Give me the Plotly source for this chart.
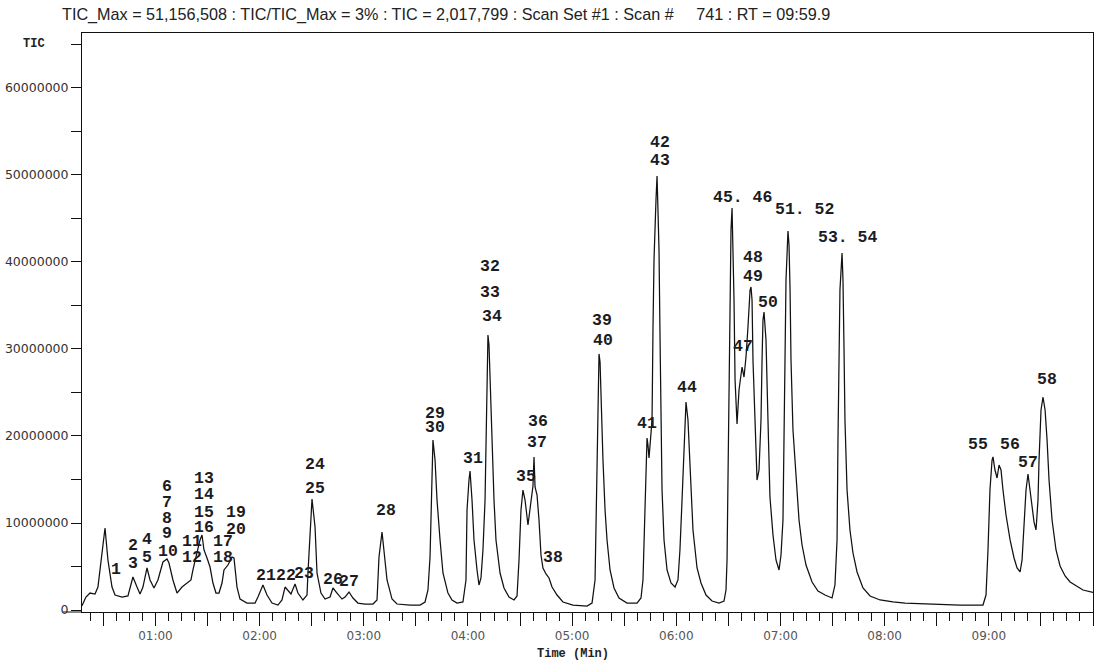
import plotly.graph_objects as go

# ---------------- data ----------------
time_min = [
    0.295, 0.333, 0.372, 0.420, 0.448, 0.487, 0.516, 0.544, 0.583, 0.612,
    0.679, 0.736, 0.784, 0.823, 0.852, 0.880, 0.919, 0.948, 0.986, 1.024,
    1.072, 1.111, 1.130, 1.168, 1.207, 1.255, 1.303, 1.341, 1.360, 1.370,
    1.428, 1.447, 1.466, 1.495, 1.524, 1.552, 1.581, 1.610, 1.639, 1.658,
    1.696, 1.735, 1.754, 1.783, 1.812, 1.879, 1.956, 1.984, 2.032, 2.071,
    2.119, 2.176, 2.215, 2.244, 2.272, 2.301, 2.340, 2.368, 2.416, 2.455,
    2.464, 2.493, 2.503, 2.532, 2.551, 2.589, 2.628, 2.676, 2.704, 2.743,
    2.791, 2.820, 2.858, 2.896, 2.944, 3.012, 3.088, 3.127, 3.146, 3.175,
    3.194, 3.223, 3.271, 3.319, 3.444, 3.540, 3.588, 3.616, 3.636, 3.645,
    3.655, 3.664, 3.684, 3.703, 3.732, 3.760, 3.808, 3.847, 3.895, 3.952,
    3.981, 3.991, 4.010, 4.020, 4.039, 4.058, 4.087, 4.106, 4.125, 4.144,
    4.164, 4.173, 4.183, 4.192, 4.202, 4.212, 4.231, 4.250, 4.269, 4.308,
    4.346, 4.394, 4.442, 4.471, 4.490, 4.509, 4.528, 4.548, 4.576, 4.605,
    4.624, 4.634, 4.644, 4.663, 4.682, 4.701, 4.720, 4.749, 4.778, 4.807,
    4.855, 4.912, 5.008, 5.143, 5.191, 5.220, 5.229, 5.239, 5.248, 5.258,
    5.268, 5.277, 5.296, 5.316, 5.335, 5.364, 5.402, 5.450, 5.527, 5.623,
    5.661, 5.680, 5.700, 5.709, 5.719, 5.728, 5.738, 5.748, 5.757, 5.767,
    5.776, 5.786, 5.805, 5.815, 5.824, 5.834, 5.844, 5.853, 5.863, 5.882,
    5.911, 5.949, 5.988, 6.016, 6.035, 6.055, 6.074, 6.093, 6.112, 6.131,
    6.160, 6.199, 6.237, 6.285, 6.343, 6.410, 6.458, 6.477, 6.487, 6.496,
    6.506, 6.516, 6.525, 6.535, 6.544, 6.554, 6.564, 6.583, 6.602, 6.621,
    6.631, 6.650, 6.669, 6.688, 6.708, 6.717, 6.727, 6.736, 6.756, 6.775,
    6.794, 6.813, 6.823, 6.832, 6.842, 6.861, 6.880, 6.899, 6.928, 6.957,
    6.986, 7.005, 7.024, 7.034, 7.044, 7.053, 7.072, 7.082, 7.092, 7.101,
    7.120, 7.149, 7.178, 7.207, 7.245, 7.303, 7.360, 7.428, 7.495, 7.523,
    7.543, 7.552, 7.562, 7.571, 7.591, 7.600, 7.610, 7.619, 7.639, 7.667,
    7.696, 7.735, 7.792, 7.860, 7.956, 8.080, 8.196, 8.435, 8.723, 8.944,
    8.973, 8.992, 9.011, 9.031, 9.040, 9.059, 9.079, 9.098, 9.117, 9.136,
    9.165, 9.204, 9.242, 9.271, 9.300, 9.319, 9.338, 9.357, 9.376, 9.395,
    9.414, 9.434, 9.453, 9.472, 9.482, 9.492, 9.501, 9.520, 9.540, 9.559,
    9.578, 9.607, 9.645, 9.684, 9.732, 9.780, 9.837, 9.904, 10.000,
]

tic_millions = [
    0.50, 1.49, 1.95, 1.84, 2.64, 6.55, 9.43, 5.75, 2.64, 1.72,
    1.49, 1.61, 3.79, 2.64, 1.84, 2.64, 4.83, 3.45, 2.53, 3.45,
    5.52, 5.86, 5.40, 3.45, 1.95, 2.64, 3.10, 3.45, 4.60, 5.17,
    8.05, 8.62, 6.90, 5.98, 4.94, 3.10, 1.95, 1.95, 3.10, 4.60,
    5.17, 6.09, 5.98, 2.64, 1.26, 0.80, 0.80, 1.49, 2.87, 1.72,
    0.80, 0.57, 1.15, 2.64, 2.30, 1.84, 2.99, 1.95, 1.15, 1.72,
    4.25, 10.69, 12.76, 9.54, 4.25, 1.95, 1.26, 1.49, 2.53, 1.95,
    1.26, 1.49, 2.07, 1.38, 0.80, 0.69, 0.69, 1.15, 6.09, 8.97,
    6.90, 3.45, 1.26, 0.69, 0.57, 0.57, 0.92, 2.30, 6.09, 11.49,
    16.09, 19.54, 17.24, 12.64, 8.05, 4.25, 1.95, 1.15, 0.80, 0.92,
    3.45, 11.49, 14.94, 15.98, 12.64, 8.05, 4.60, 2.87, 3.68, 6.90,
    12.64, 19.54, 26.44, 31.61, 30.46, 26.44, 19.54, 12.64, 8.05, 4.25,
    2.53, 1.49, 1.15, 1.61, 5.75, 11.49, 13.79, 12.64, 9.77, 12.64,
    14.25, 17.59, 14.14, 13.22, 10.34, 6.32, 4.83, 4.14, 3.68, 2.64,
    1.72, 0.92, 0.57, 0.46, 0.80, 3.45, 10.34, 19.54, 25.29, 29.43,
    28.51, 24.14, 17.24, 11.49, 8.05, 4.60, 2.53, 1.38, 0.80, 0.80,
    1.38, 3.45, 12.64, 18.39, 19.77, 18.97, 17.47, 18.97, 20.11, 21.84,
    32.18, 40.23, 47.13, 49.89, 45.98, 41.38, 31.03, 21.84, 13.79, 8.05,
    4.60, 3.10, 2.64, 3.45, 6.90, 12.64, 19.54, 23.91, 21.84, 16.09,
    9.20, 4.83, 3.10, 1.72, 1.03, 0.80, 1.03, 2.30, 5.75, 14.94,
    26.44, 37.93, 43.68, 46.21, 42.53, 35.63, 26.44, 21.38, 25.29, 27.59,
    27.93, 26.78, 29.08, 32.53, 36.78, 37.13, 35.63, 28.74, 21.03, 14.94,
    16.09, 21.84, 28.74, 33.33, 34.25, 31.03, 21.84, 12.99, 8.62, 5.75,
    4.60, 6.32, 10.34, 18.39, 28.74, 37.93, 43.56, 41.95, 36.78, 28.74,
    20.69, 14.94, 10.34, 7.47, 5.17, 3.22, 2.18, 1.72, 1.38, 2.87,
    8.05, 19.54, 28.74, 36.78, 41.03, 37.93, 29.89, 21.84, 13.79, 9.20,
    6.55, 4.37, 2.53, 1.61, 1.15, 0.92, 0.80, 0.69, 0.57, 0.57,
    1.72, 6.90, 13.79, 17.24, 17.59, 16.09, 15.17, 16.67, 16.09, 13.79,
    10.92, 8.05, 5.98, 4.83, 4.37, 5.75, 10.34, 13.79, 15.63, 13.79,
    11.84, 10.11, 9.20, 12.64, 17.24, 20.69, 22.99, 24.48, 22.99, 19.54,
    14.94, 10.34, 6.90, 5.06, 3.91, 3.22, 2.76, 2.30, 2.02,
]

# peak labels (text, anchor time in min, anchor TIC in millions)
label_text = [
    "1", "2", "3", "4", "5", "6", "7", "8", "9", "10",
    "11", "12", "13", "14", "15", "16", "17", "18", "19", "20",
    "21", "22", "23", "24", "25", "26", "27", "28", "29", "30",
    "31", "32", "33", "34", "35", "36", "37", "38", "39", "40",
    "41", "42", "43", "44", "45. 46", "47", "48", "49", "50", "51. 52",
    "53. 54", "55", "56", "57", "58",
]
label_time = [
    0.621, 0.784, 0.784, 0.919, 0.919, 1.111, 1.111, 1.111, 1.111, 1.120,
    1.351, 1.351, 1.466, 1.466, 1.466, 1.466, 1.648, 1.648, 1.773, 1.773,
    2.061, 2.253, 2.426, 2.532, 2.532, 2.704, 2.858, 3.213, 3.683, 3.683,
    4.048, 4.212, 4.212, 4.231, 4.557, 4.672, 4.663, 4.816, 5.287, 5.296,
    5.719, 5.843, 5.843, 6.103, 6.640, 6.640, 6.736, 6.736, 6.880, 7.226,
    7.649, 8.896, 9.203, 9.376, 9.559,
]
label_tic_millions = [
    4.60, 7.47, 5.40, 8.05, 6.09, 14.14, 12.30, 10.46, 8.74, 6.78,
    7.82, 6.09, 15.06, 13.22, 11.26, 9.54, 7.82, 6.09, 11.26, 9.20,
    4.02, 4.02, 4.25, 16.67, 14.02, 3.45, 3.33, 11.38, 22.64, 20.92,
    17.36, 39.43, 36.55, 33.79, 15.29, 21.72, 19.20, 5.98, 33.33, 30.92,
    21.38, 53.79, 51.72, 25.63, 47.47, 30.23, 40.57, 38.39, 35.40, 46.09,
    42.87, 18.97, 18.97, 16.90, 26.55,
]

x_tick_values = [0.5, 1.0, 1.5, 2.0, 2.5, 3.0, 3.5, 4.0, 4.5, 5.0,
                 5.5, 6.0, 6.5, 7.0, 7.5, 8.0, 8.5, 9.0, 9.5, 10.0]
x_tick_labels = ["", "01:00", "", "02:00", "", "03:00", "", "04:00", "", "05:00",
                 "", "06:00", "", "07:00", "", "08:00", "", "09:00", "", "10:00"]
y_tick_values = [0, 10000000, 20000000, 30000000, 40000000, 50000000, 60000000, 65000000]
y_tick_labels = ["0", "10000000", "20000000", "30000000", "40000000", "50000000", "60000000", ""]
y_minor_values = [5000000, 15000000, 25000000, 35000000, 45000000, 55000000]

title_text = ("TIC_Max = 51,156,508 : TIC/TIC_Max = 3% : TIC = 2,017,799 : "
              "Scan Set #1 : Scan #\u00a0\u00a0\u00a0\u00a0\u00a0741 : RT = 09:59.9")

# ---------------- figure ----------------
tic_counts = [v * 1e6 for v in tic_millions]

fig = go.Figure()
fig.add_trace(go.Scatter(
    x=time_min, y=tic_counts, mode="lines",
    line=dict(color="#111111", width=1.25),
    hoverinfo="skip", showlegend=False,
))

label_font = dict(family="Liberation Mono", size=16.5, color="#1b1b24", weight="bold")
annotations = []
for txt, t, v in zip(label_text, label_time, label_tic_millions):
    annotations.append(dict(
        x=t, y=v * 1e6, xref="x", yref="y", text=txt, showarrow=False,
        xanchor="center", yanchor="middle", font=label_font,
    ))

# "TIC" label on the y axis top tick
annotations.append(dict(
    x=-0.0475, y=65000000, xref="paper", yref="y", text="TIC", showarrow=False,
    xanchor="center", yanchor="middle",
    font=dict(family="Liberation Mono", size=12, color="#222222", weight="bold"),
))
# x-axis title
annotations.append(dict(
    x=0.486, y=-0.072, xref="paper", yref="paper", text="Time (Min)", showarrow=False,
    xanchor="center", yanchor="middle",
    font=dict(family="Liberation Mono", size=12, color="#222222", weight="bold"),
))

fig.update_layout(
    width=1109, height=662,
    margin=dict(l=82, r=16, t=33, b=50, autoexpand=False),
    paper_bgcolor="white", plot_bgcolor="white",
    showlegend=False,
    title=dict(
        text=title_text, x=62 / 1109, xref="container", xanchor="left",
        y=1 - 14 / 662, yref="container", yanchor="middle",
        font=dict(family="Liberation Sans", size=16.2, color="#222222"),
    ),
    annotations=annotations,
    shapes=[dict(type="line", xref="paper", yref="paper",
                 x0=-0.019, x1=0, y0=0, y1=0,
                 line=dict(color="#111111", width=1))],
)

fig.update_xaxes(
    range=[0.295, 10.0], showgrid=False, zeroline=False, automargin=False,
    showline=True, linecolor="#111111", linewidth=1, mirror=True,
    ticks="outside", tickmode="array", tickvals=x_tick_values, ticktext=x_tick_labels,
    ticklen=13, tickwidth=1.3, tickcolor="#111111",
    tickfont=dict(family="DejaVu Sans", size=12, color="#555555"),
    minor=dict(tickmode="linear", tick0=0, dtick=0.125, ticks="outside",
               ticklen=8, tickwidth=1, tickcolor="#111111", showgrid=False),
)
fig.update_yaxes(
    range=[-230000, 66320000], showgrid=False, zeroline=False, automargin=False,
    showline=True, linecolor="#111111", linewidth=1, mirror=True,
    ticks="outside", tickmode="array", tickvals=y_tick_values, ticktext=y_tick_labels,
    ticklen=10, tickwidth=1, tickcolor="#111111",
    tickfont=dict(family="DejaVu Sans", size=12.5, color="#333333"),
    minor=dict(tickmode="array", tickvals=y_minor_values, ticks="outside",
               ticklen=10, tickwidth=1, tickcolor="#111111", showgrid=False),
)

fig.write_html(
    "out.html",
    config={"displayModeBar": False},
    post_script="document.body.style.margin='0';document.body.style.overflow='hidden';",
)
